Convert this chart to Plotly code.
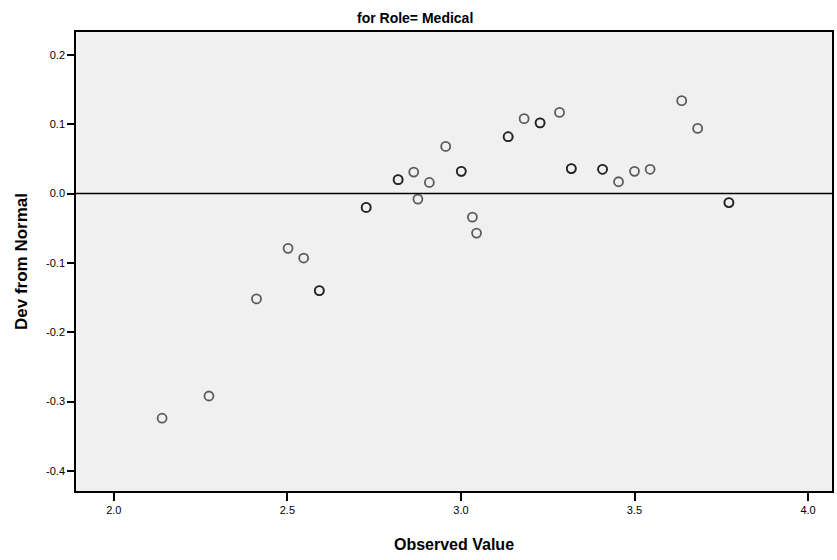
import plotly.graph_objects as go

# Detrended normal Q-Q plot of the "Medical" group.
# Tied observations appear twice so that overlapping rings print darker.
observed = [2.139, 2.274, 2.411, 2.502, 2.547, 2.592, 2.592, 2.727, 2.727,
            2.819, 2.819, 2.864, 2.876, 2.909, 2.956, 3.001, 3.001, 3.033,
            3.045, 3.136, 3.136, 3.182, 3.228, 3.228, 3.284, 3.318, 3.318,
            3.408, 3.408, 3.454, 3.500, 3.545, 3.636, 3.682, 3.772, 3.772]
dev_from_normal = [-0.324, -0.292, -0.152, -0.079, -0.093, -0.140, -0.140,
                   -0.020, -0.020, 0.020, 0.020, 0.031, -0.008, 0.016, 0.068,
                   0.032, 0.032, -0.034, -0.057, 0.082, 0.082, 0.108, 0.102,
                   0.102, 0.117, 0.036, 0.036, 0.035, 0.035, 0.017, 0.032,
                   0.035, 0.134, 0.094, -0.013, -0.013]

x_ticks = [2.0, 2.5, 3.0, 3.5, 4.0]
x_tick_text = ["2.0", "2.5", "3.0", "3.5", "4.0"]
y_ticks = [0.2, 0.1, 0.0, -0.1, -0.2, -0.3, -0.4]
y_tick_text = ["0.2", "0.1", "0.0", "-0.1", "-0.2", "-0.3", "-0.4"]

font_family = "Liberation Sans, Arial, sans-serif"

fig = go.Figure()
fig.add_trace(go.Scatter(
    x=observed, y=dev_from_normal, mode="markers",
    marker=dict(symbol="circle-open", size=9, color="rgba(0,0,0,0.62)",
                line=dict(width=1.8, color="rgba(0,0,0,0.62)")),
    showlegend=False, hoverinfo="x+y",
))

# Reference line at zero deviation
fig.add_shape(type="line", xref="x domain", yref="y", x0=0, x1=1, y0=0, y1=0,
              line=dict(color="black", width=1.5), layer="below")

fig.update_layout(
    width=837, height=560,
    margin=dict(l=76, r=3, t=32, b=69),
    paper_bgcolor="white", plot_bgcolor="#f0f0f0",
    font=dict(family=font_family, color="black", size=11),
    title=dict(text="<b>for Role= Medical</b>", x=0.496, xref="container",
               y=0.968, yref="container", xanchor="center", yanchor="middle",
               font=dict(size=14, family=font_family, color="black")),
)
fig.update_xaxes(
    range=[1.891, 4.069], tickvals=x_ticks, ticktext=x_tick_text,
    showgrid=False, zeroline=False, showline=True, mirror=True,
    linecolor="black", linewidth=1.5, ticks="outside", ticklen=8,
    tickcolor="black", tickwidth=1.5, tickfont=dict(size=11),
    title=dict(text="<b>Observed Value</b>", standoff=24,
               font=dict(size=16, family=font_family)),
)
fig.update_yaxes(
    range=[-0.429, 0.233], tickvals=y_ticks, ticktext=y_tick_text,
    showgrid=False, zeroline=False, showline=True, mirror=True,
    linecolor="black", linewidth=1.5, ticks="outside", ticklen=7,
    tickcolor="black", tickwidth=1.5, tickfont=dict(size=11),
    title=dict(text="<b>Dev from Normal</b>", standoff=14,
               font=dict(size=17, family=font_family)),
)

fig.write_html("out.html")
